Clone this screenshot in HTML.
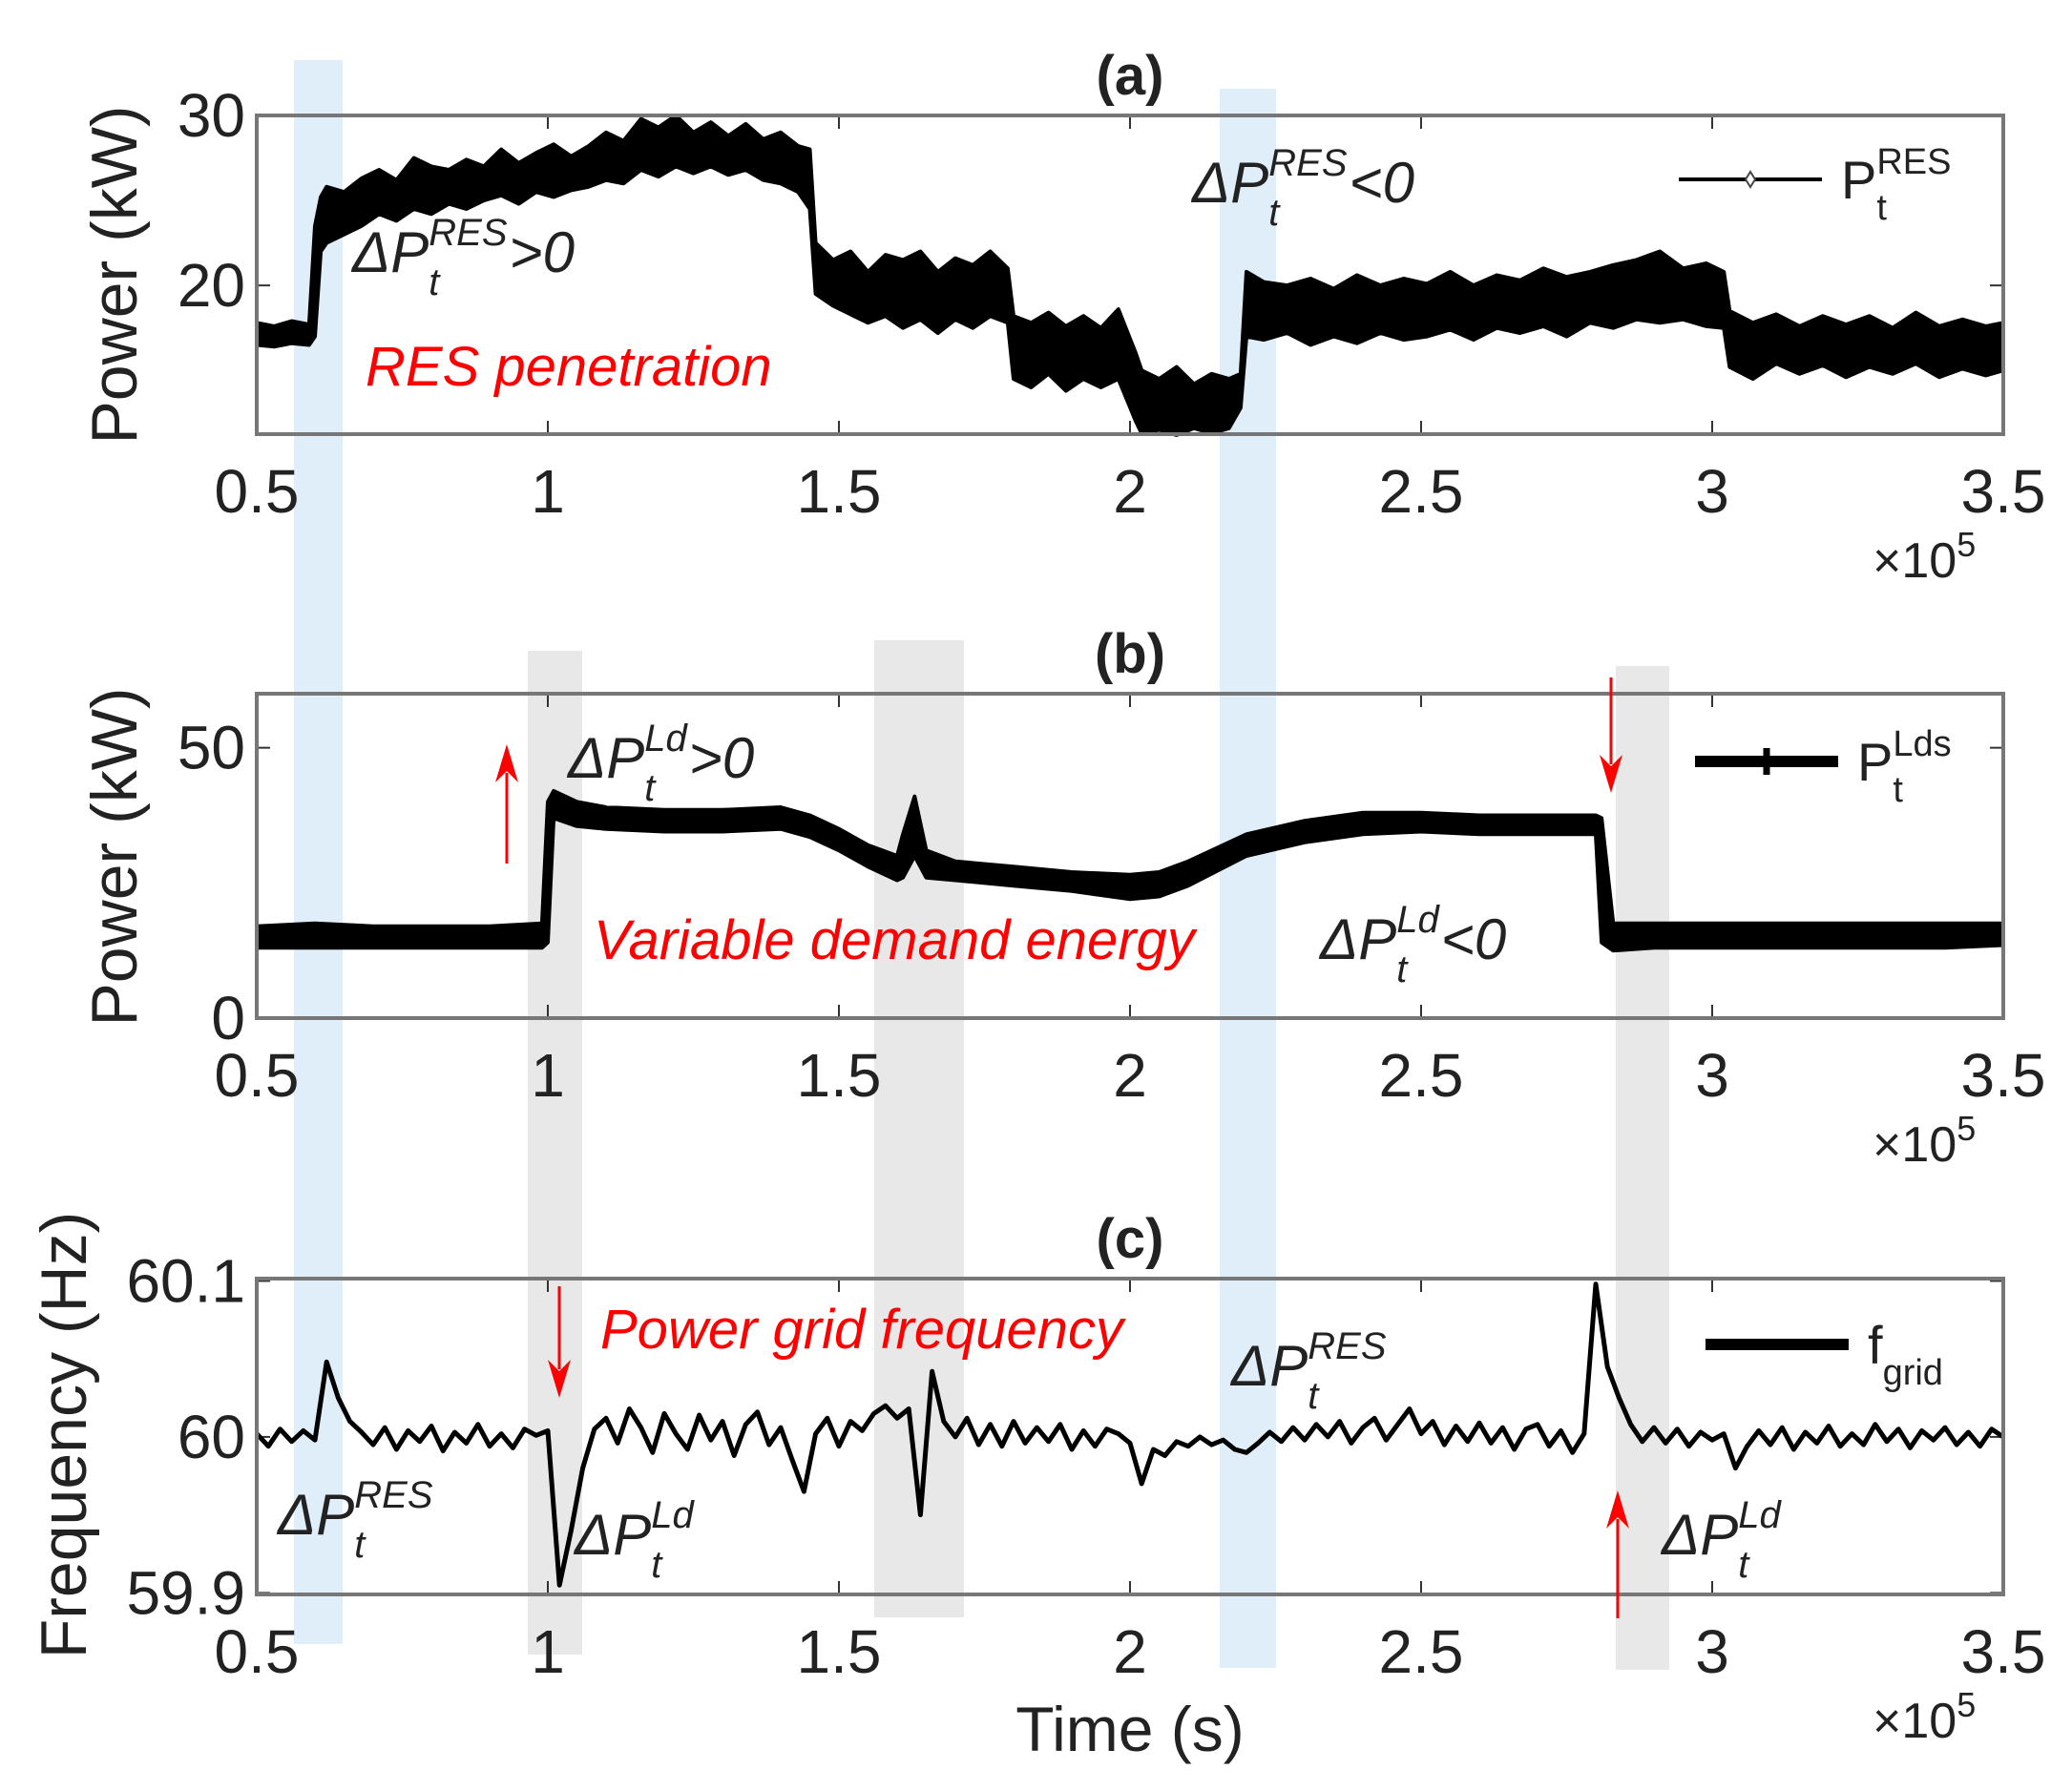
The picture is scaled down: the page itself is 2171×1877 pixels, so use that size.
<!DOCTYPE html>
<html><head><meta charset="utf-8"><style>
html,body{margin:0;padding:0;background:#fff;}
svg{display:block;}
text{font-family:"Liberation Sans",Arial,sans-serif;}
</style></head><body>
<svg id="fig" width="2171" height="1877" viewBox="0 0 2171 1877" xmlns="http://www.w3.org/2000/svg"></svg>
<script>
// ---------- Data ----------
const xTicks = [0.5,1,1.5,2,2.5,3,3.5];
const xTickLabels = ["0.5","1","1.5","2","2.5","3","3.5"];
const aTicks = [20,30];
const bTicks = [0,50];
const cTicks = [59.9,60,60.1];
const cTickLabels = ["59.9","60","60.1"];

// Panel (a) RES power envelope
const xA = [0.5,0.53,0.56,0.59,0.6,0.61,0.62,0.65,0.68,0.71,
0.74,0.77,0.8,0.83,0.86,0.89,0.92,0.95,0.98,1.01,
1.04,1.07,1.1,1.13,1.16,1.19,1.22,1.25,1.28,1.31,
1.34,1.37,1.4,1.43,1.45,1.46,1.49,1.52,1.55,1.58,
1.61,1.64,1.67,1.7,1.73,1.76,1.79,1.8,1.83,1.86,
1.89,1.92,1.95,1.98,2.01,2.02,2.05,2.08,2.11,2.14,
2.17,2.19,2.2,2.23,2.27,2.31,2.35,2.39,2.43,2.47,
2.51,2.55,2.59,2.63,2.67,2.71,2.75,2.79,2.83,2.87,
2.91,2.95,2.99,3.02,3.03,3.07,3.11,3.15,3.19,3.23,
3.27,3.31,3.35,3.39,3.43,3.47,3.5];
const hiA = [17.8,17.6,17.9,17.7,23.5,25.2,25.8,25.5,26.3,26.8,
26.2,27.5,27.0,26.8,27.4,27.0,28.0,27.2,27.8,28.3,
27.6,28.2,29.0,28.5,29.8,29.3,30.0,29.0,29.6,28.8,
29.5,28.6,29.0,28.2,28.0,22.5,21.5,22.0,20.8,21.8,
21.5,22.0,20.8,21.6,21.2,22.0,21.0,18.2,17.8,18.4,
17.6,18.2,17.5,18.6,16.0,15.0,14.5,15.2,14.2,14.8,
14.5,14.8,20.8,20.2,20.0,20.4,19.8,20.6,20.0,20.4,
20.1,20.8,20.0,20.6,20.3,21.0,20.5,20.8,21.2,21.5,
22.0,21.0,21.3,20.8,18.5,17.8,18.3,17.6,18.2,17.7,
18.2,17.5,18.4,17.6,18.0,17.6,17.8];
const loA = [16.5,16.4,16.6,16.5,17.0,22.0,22.5,23.0,23.5,24.2,
23.8,24.5,24.2,24.8,24.5,25.0,25.3,24.8,25.5,25.2,
25.6,25.8,26.2,26.0,26.8,26.4,27.0,26.6,27.0,26.5,
26.8,26.2,26.0,25.5,24.5,19.5,18.8,18.3,17.8,18.2,
17.5,18.0,17.2,18.0,17.5,18.2,17.8,14.5,14.0,14.8,
13.8,14.5,14.0,14.5,12.0,11.3,11.5,11.2,11.6,11.3,
11.6,12.8,17.0,16.8,17.2,16.5,17.0,16.6,17.2,16.8,
17.0,17.4,16.8,17.5,17.2,17.6,17.0,17.8,17.5,18.0,
17.8,18.0,17.6,17.5,15.2,14.5,15.4,14.8,15.3,14.6,
15.2,14.8,15.4,14.6,15.1,14.7,15.0];

// Panel (b) load power envelope
const xB = [0.5,0.6,0.7,0.8,0.9,0.99,1.0,1.01,1.05,1.1,
1.2,1.3,1.4,1.45,1.5,1.55,1.6,1.61,1.63,1.65,
1.7,1.8,1.9,2.0,2.05,2.1,2.2,2.3,2.4,2.5,
2.6,2.7,2.8,2.81,2.83,2.9,3.0,3.2,3.4,3.5];
const hiB = [17,17.5,17,17,17,17.5,40,42,40,39,
38.5,38.5,39,37.5,35,32,30,34,41,31,
29,28,27,26.5,27,29,34,36.5,38,38,
37.5,37.5,37.5,37,17.5,17.5,17.5,17.5,17.5,17.5];
const loB = [13,13,13,13,13,13,14,37,35.5,35,
34.5,34.5,35,33.5,31,28,25.5,26,30,26,
25.5,24.5,23.5,22,22.5,24.5,30,32.5,34,34.5,
34,34,34,14,12.5,13,13,13,13,13.5];

// Panel (c) grid frequency, deviation from 60 Hz in mHz, sampled every 0.02e5 s from 0.5e5
const cStart = 0.5, cStep = 0.02;
const fDevMilliHz = [2,-6,5,-3,4,-2,48,25,10,3,
-5,6,-8,4,-3,7,-9,3,-4,8,-6,2,-7,5,1,
4,-95,-60,-20,5,
12,-4,18,6,-10,15,2,-8,14,-2,10,-12,8,16,-5,
6,-15,-35,2,12,
-6,10,4,15,20,12,18,-50,42,10,
0,12,-5,8,-6,10,-4,6,-3,8,
-8,4,-6,5,2,-4,-30,-8,-12,-3,
-6,0,-5,-2,-8,-10,-4,3,-3,6,
-2,8,0,10,-4,6,12,-2,8,18,
2,10,-5,7,-3,9,-4,6,-8,5,
8,-6,4,-10,2,98,45,25,8,-3,
6,-4,5,-6,3,-2,2,-20,-6,4,
-5,6,-8,3,-4,7,-6,2,-5,8,
-3,5,-7,4,-2,6,-5,3,-6,5,0];

// ---------- Layout / scales ----------
const L=269, R=2099;
const X = v => L + (v-0.5)/3*(R-L);
const Ya = v => 455 - (v-11.25)/(30-11.25)*334;
const Yb = v => 1067 - v/60*340;
const Yc = v => 1671 - (v-59.899)/0.2025*331;
const svg = document.getElementById('fig');
const NS = 'http://www.w3.org/2000/svg';
function mk(tag, attrs, parent){
  const e = document.createElementNS(NS, tag);
  for (const k in attrs) e.setAttribute(k, attrs[k]);
  (parent||svg).appendChild(e);
  return e;
}

const bands = [[308,359,63,1723,'#dfeef9','blue-band-res-rise'],[1278,1337,93,1748,'#dfeef9','blue-band-res-drop'],
[553,610,682,1734,'#e8e8e8','gray-band-load-rise'],[916,1010,671,1695,'#e8e8e8','gray-band-load-spike'],[1693,1749,698,1750,'#e8e8e8','gray-band-load-drop']];
for (const b of bands){
  const r = mk('rect',{x:b[0],y:b[2],width:b[1]-b[0],height:b[3]-b[2],fill:b[4]});
  
  
}

const panels = [[121,455,'a'],[727,1067,'b'],[1340,1671,'c']];
for (const p of panels){
  const g = mk('g',{});
  
  
  for (const t of xTicks){
    mk('line',{x1:X(t),x2:X(t),y1:p[0],y2:p[0]+14,stroke:'#333','stroke-width':2},g);
    mk('line',{x1:X(t),x2:X(t),y1:p[1],y2:p[1]-14,stroke:'#333','stroke-width':2},g);
  }
  xTicks.forEach((t,i)=>{
    const tx = mk('text',{x:X(t),y:p[1]+82,'font-size':64,'text-anchor':'middle',fill:'#222'},g);
    tx.textContent = xTickLabels[i];
    
    
  });
  const ex = mk('text',{x:1962,y:p[1]+150,'font-size':52,fill:'#222'},g);
  
  
  ex.innerHTML = '×10<tspan dy="-22" font-size="36">5</tspan>';
  const tt = mk('text',{x:1184,y:p[0]-22,'font-size':58,'font-weight':'bold','text-anchor':'middle',fill:'#222'},g);
  tt.textContent = '('+p[2]+')';
  
  
}

function yTicks(vals, labels, Y, parent){
  vals.forEach((v,i)=>{
    mk('line',{x1:L,x2:L+14,y1:Y(v),y2:Y(v),stroke:'#333','stroke-width':2},parent);
    mk('line',{x1:R,x2:R-14,y1:Y(v),y2:Y(v),stroke:'#333','stroke-width':2},parent);
    const t = mk('text',{x:L-12,y:Y(v)+22,'font-size':64,'text-anchor':'end',fill:'#222'},parent);
    t.textContent = labels[i];
    
    
  });
}
yTicks(aTicks, aTicks.map(String), Ya);
yTicks(bTicks, bTicks.map(String), Yb);
yTicks(cTicks, cTickLabels, Yc);

function band(xs, lo, hi, Y, name){
  let d = xs.map((x,i)=>(i?'L':'M')+X(x).toFixed(1)+','+Y(hi[i]).toFixed(1)).join(' ');
  for (let i=xs.length-1;i>=0;i--) d += ' L'+X(xs[i]).toFixed(1)+','+Y(lo[i]).toFixed(1);
  const p = mk('path',{d:d+' Z',fill:'#000',stroke:'#000','stroke-width':4,'stroke-linejoin':'round'});
  
  
}
band(xA, loA, hiA, Ya, 'res-power-series');
band(xB, loB, hiB, Yb, 'load-power-series');
const fd = fDevMilliHz.map((v,i)=>(i?'L':'M')+X(cStart+i*cStep).toFixed(1)+','+Yc(60+v/1000).toFixed(1)).join(' ');
const fl = mk('path',{d:fd,fill:'none',stroke:'#000','stroke-width':5,'stroke-linejoin':'round'});



for (const p of panels){
  const r = mk('rect',{x:L,y:p[0],width:R-L,height:p[1]-p[0],fill:'none',stroke:'#777','stroke-width':4});
  
  
}

function ylab(text, x, y, name){
  const t = mk('text',{x:x,y:y,'font-size':68,'text-anchor':'middle',fill:'#222',transform:`rotate(-90 ${x} ${y})`});
  t.textContent = text;
  
  
}
ylab('Power (kW)', 143, 288, 'y-axis-title-a');
ylab('Power (kW)', 143, 898, 'y-axis-title-b');
ylab('Frequency (Hz)', 90, 1504, 'y-axis-title-c');
const xl = mk('text',{x:1184,y:1835,'font-size':66,'text-anchor':'middle',fill:'#222'});
xl.textContent = 'Time (s)';



function dP(x, y, sup, tail, name){
  const g = mk('g',{'font-style':'italic',fill:'#222'});
  
  
  const a = mk('text',{x:x,y:y,'font-size':60},g); a.textContent='ΔP';
  const w = a.getComputedTextLength();
  const s = mk('text',{x:x+w,y:y-28,'font-size':40},g); s.textContent=sup;
  const b = mk('text',{x:x+w,y:y+24,'font-size':40},g); b.textContent='t';
  if (tail){
    const t = mk('text',{x:x+w+s.getComputedTextLength()+2,y:y,'font-size':60},g); t.textContent=tail;
  }
}
dP(369,285,'RES','>0','annotation-res-rise');
dP(1249,212,'RES','<0','annotation-res-drop');
dP(595,815,'Ld','>0','annotation-load-rise');
dP(1383,1005,'Ld','<0','annotation-load-drop');
dP(1290,1452,'RES','','annotation-freq-res');
dP(291,1608,'RES','','annotation-freq-res-left');
dP(602,1629,'Ld','','annotation-freq-load-left');
dP(1741,1629,'Ld','','annotation-freq-load-right');

function red(text,x,y,name){
  const t = mk('text',{x:x,y:y,'font-size':58,'font-style':'italic',fill:'#f00'});
  t.textContent = text;
  
  
}
red('RES penetration',383,404,'label-res-penetration');
red('Variable demand energy',622,1005,'label-variable-demand');
red('Power grid frequency',629,1413,'label-grid-frequency');

function arrow(x,y1,y2,name){
  const g = mk('g',{});
  
  
  const dir = y2<y1 ? -1 : 1;
  mk('line',{x1:x,x2:x,y1:y1,y2:y2-dir*30,stroke:'#f00','stroke-width':3},g);
  mk('path',{d:`M${x-12},${y2-dir*40} L${x},${y2} L${x+12},${y2-dir*40} L${x},${y2-dir*28} Z`,fill:'#f00'},g);
}
arrow(531,905,780,'arrow-load-up');
arrow(1688,710,831,'arrow-load-down');
arrow(586,1348,1465,'arrow-freq-down');
arrow(1695,1696,1562,'arrow-freq-up');

function legend(y, lw, marker, main, sup, sub, tx, name){
  const g = mk('g',{});
  
  
  const x1 = tx-170, x2 = tx-20;
  mk('line',{x1:x1,x2:x2,y1:y,y2:y,stroke:lw>3?'#000':'#666','stroke-width':lw},g);
  if (marker==='diamond') mk('path',{d:`M${(x1+x2)/2},${y-8} L${(x1+x2)/2+5},${y} L${(x1+x2)/2},${y+8} L${(x1+x2)/2-5},${y} Z`,fill:'#fff',stroke:'#444','stroke-width':2},g);
  if (marker==='bar') mk('line',{x1:(x1+x2)/2,x2:(x1+x2)/2,y1:y-14,y2:y+14,stroke:'#000','stroke-width':7},g);
  const t = mk('text',{x:tx,y:y+20,'font-size':56,fill:'#222'},g); t.textContent = main;
  const w = t.getComputedTextLength();
  if (sup){ const s = mk('text',{x:tx+w,y:y-6,'font-size':38,fill:'#222'},g); s.textContent = sup; }
  const b = mk('text',{x:tx+w,y:y+42,'font-size':38,fill:'#222'},g); b.textContent = sub;
}
legend(188,4,'diamond','P','RES','t',1929,'legend-res');
legend(798,12,'bar','P','Lds','t',1946,'legend-load');
legend(1409,12,'none','f','','grid',1957,'legend-frequency');
</script>
</body></html>
